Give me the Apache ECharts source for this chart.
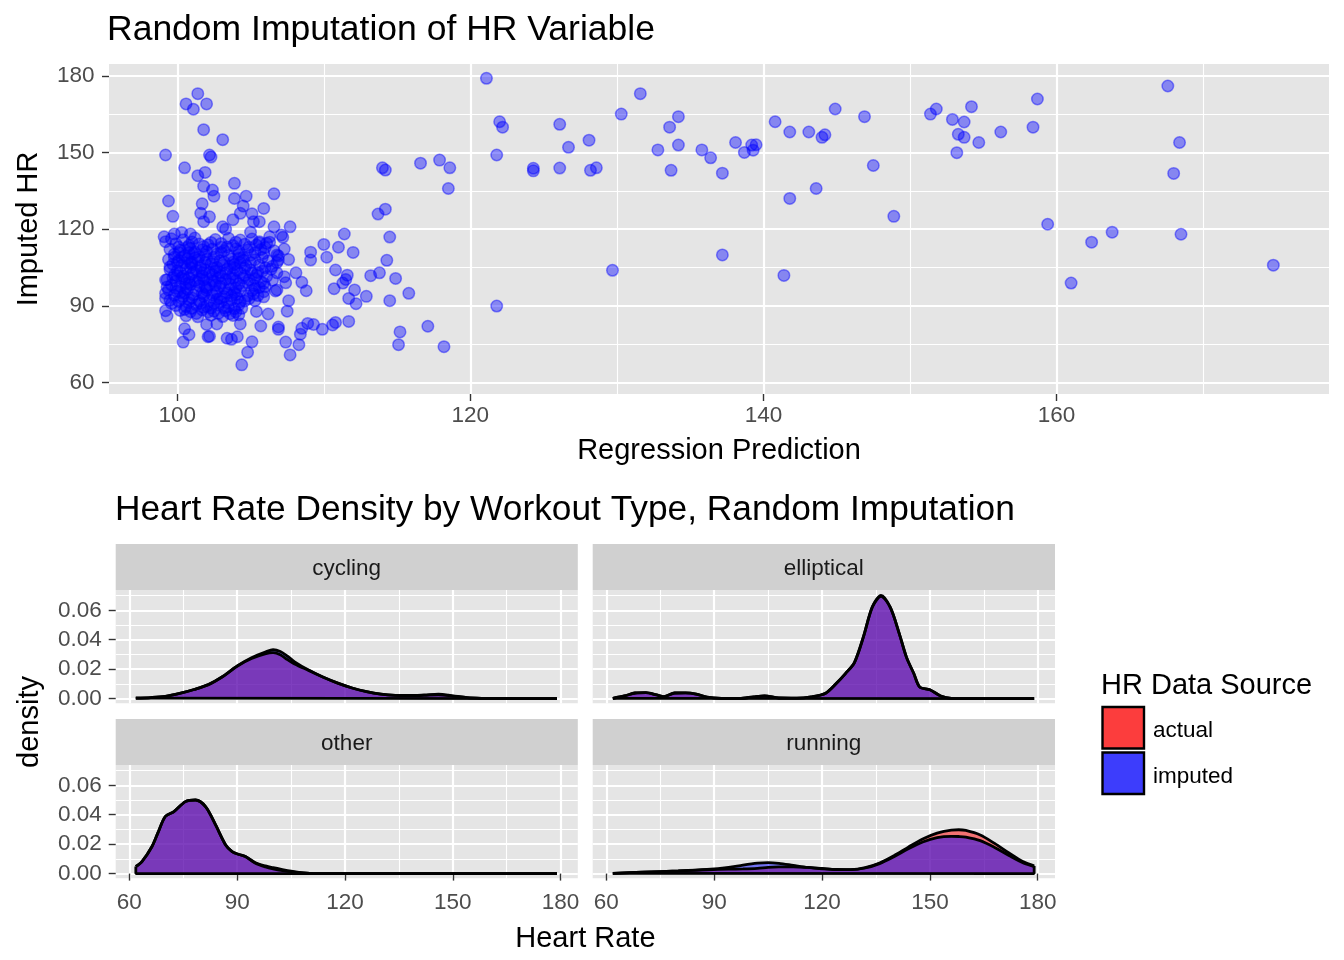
<!DOCTYPE html>
<html>
<head>
<meta charset="utf-8">
<title>Random Imputation of HR Variable</title>
<script src="https://cdn.jsdelivr.net/npm/echarts@6/dist/echarts.min.js"></script>
<style>
  html, body { margin: 0; padding: 0; background: #fff; }
  #chart { width: 1344px; height: 960px; }
</style>
</head>
<body>
<div id="chart"></div>
<script>
// scatter: [regression prediction, imputed HR]
var hrPoints = [
  [101.4,173.0],[100.6,169.0],[101.1,166.9],[102.0,169.0],[101.8,158.9],[103.1,155.0],[99.2,149.0],[102.2,149.0],[102.3,148.2],[100.5,144.0],
  [101.9,142.2],[101.4,140.9],[103.9,137.9],[101.8,136.8],[102.4,135.3],[102.5,132.9],[99.4,131.0],[99.7,125.0],[103.9,132.0],[104.7,132.9],
  [104.5,129.0],[104.3,126.2],[106.6,133.8],[105.9,128.1],[101.7,129.9],[105.1,126.0],[105.6,122.9],[105.2,122.9],[103.8,123.7],[103.1,120.9],
  [103.3,120.0],[107.7,120.9],[106.6,120.9],[107.1,117.7],[107.2,116.8],[105.0,118.8],[99.1,117.0],[99.2,115.1],[99.8,118.1],[100.3,118.7],
  [100.9,118.1],[106.3,117.0],[106.3,114.9],[105.6,115.1],[106.8,109.9],[106.9,107.9],[114.0,144.0],[114.2,143.1],[113.7,125.9],[114.2,127.8],
  [114.5,116.9],[114.3,107.8],[116.6,145.8],[111.4,118.1],[110.0,114.0],[111.0,112.9],[112.0,110.9],[109.1,111.0],[110.2,109.0],[109.1,107.9],
  [110.8,104.0],[111.6,102.0],[111.5,100.3],[111.3,98.9],[110.7,96.7],[113.2,101.8],[113.8,102.9],[114.9,100.7],[112.1,96.2],[111.7,92.9],
  [112.2,90.8],[112.9,93.7],[114.5,92.0],[115.8,94.9],[108.1,102.9],[108.5,99.2],[108.8,95.9],[107.3,101.4],[107.4,99.0],[106.7,95.8],
  [107.6,92.0],[107.5,87.9],[111.7,83.9],[110.8,83.5],[110.6,82.5],[109.9,80.8],[109.3,82.7],[108.9,83.1],[108.5,81.2],[108.4,78.9],
  [108.3,74.8],[107.7,70.8],[107.4,75.8],[106.9,81.7],[106.9,80.8],[115.2,79.8],[115.1,74.8],[105.7,82.1],[106.2,86.8],[105.4,87.8],
  [105.1,75.9],[104.8,71.8],[104.4,66.9],[103.7,76.9],[104.1,77.9],[104.3,82.9],[104.2,86.5],[102.7,82.9],[102.0,82.7],[102.1,77.9],
  [102.2,78.1],[100.5,81.0],[100.8,78.7],[100.4,75.8],[99.3,86.0],[99.2,88.1],[99.2,94.9],[99.2,92.9],[99.3,97.4],[99.2,100.1],
  [101.6,126.2],[102.2,124.8],[101.8,122.9],[105.9,93.5],[103.4,77.3],
  // dense cluster
  [99.6,116.2],[100.4,115.8],[101.2,116.5],[102.6,115.9],[103.5,116.4],[104.3,115.7],[105.1,116.1],
  [99.9,114.3],[100.8,113.7],[101.5,114.2],[102.1,113.9],[103.0,114.4],[103.8,113.6],[104.6,114.1],[105.4,113.8],[106.1,114.5],
  [99.5,112.1],[100.2,111.7],[100.9,112.4],[101.7,111.9],[102.4,112.2],[103.2,111.6],[104.0,112.3],[104.8,111.8],[105.7,112.0],[106.6,111.5],[107.3,112.2],
  [99.8,110.2],[100.5,109.6],[101.1,110.4],[101.9,109.9],[102.7,110.3],[103.5,109.7],[104.2,110.1],[105.0,109.8],[105.9,110.5],[106.9,109.5],
  [99.4,108.1],[100.1,107.7],[100.7,108.4],[101.4,107.9],[102.0,108.2],[102.9,107.6],[103.7,108.3],[104.5,107.8],[105.3,108.0],[106.2,107.5],[107.6,108.1],
  [99.7,106.3],[100.3,105.8],[101.0,106.1],[101.6,105.6],[102.3,106.4],[103.1,105.9],[103.9,106.2],[104.7,105.7],[105.6,106.0],[106.5,105.5],
  [99.5,104.2],[100.0,103.7],[100.6,104.4],[101.3,103.9],[101.9,104.1],[102.6,103.6],[103.4,104.3],[104.1,103.8],[105.0,104.0],[105.8,103.5],[106.4,104.3],
  [99.8,102.1],[100.4,101.6],[101.0,102.3],[101.7,101.8],[102.4,102.2],[103.0,101.7],[103.8,102.4],[104.6,101.9],[105.4,102.0],[106.1,101.5],
  [99.3,100.2],[99.9,99.7],[100.5,100.4],[101.2,99.8],[101.8,100.1],[102.5,99.6],[103.3,100.3],[104.0,99.9],[104.9,100.2],[105.7,99.5],[106.5,100.0],
  [99.6,98.1],[100.2,97.6],[100.9,98.3],[101.5,97.8],[102.2,98.2],[102.9,97.7],[103.6,98.4],[104.4,97.9],[105.2,98.0],[106.0,97.5],
  [99.4,96.2],[100.0,95.7],[100.7,96.4],[101.3,95.9],[102.0,96.1],[102.7,95.6],[103.5,96.3],[104.3,95.8],[105.1,96.0],[105.9,95.5],[106.8,96.2],
  [99.8,94.1],[100.4,93.7],[101.1,94.3],[101.8,93.8],[102.4,94.2],[103.2,93.6],[104.0,94.4],[104.8,93.9],[105.5,94.0],
  [99.5,92.2],[100.1,91.7],[100.8,92.4],[101.5,91.8],[102.2,92.1],[103.0,91.6],[103.7,92.3],[104.6,91.9],[105.3,92.0],
  [99.9,90.1],[100.6,89.7],[101.3,90.4],[102.0,89.8],[102.8,90.2],[103.5,89.6],[104.2,90.3],
  [100.2,88.2],[100.9,87.7],[101.7,88.4],[102.5,87.9],[103.3,88.1],[104.0,87.6],
  [100.6,86.1],[101.4,85.7],[102.3,86.3],[103.1,85.8],[103.8,86.2],
  [100.3,108.9],[101.0,107.0],[101.6,104.8],[102.2,103.0],[102.8,100.9],[100.8,101.1],[101.4,99.2],[102.0,97.0],[102.6,94.9],[100.5,95.0],
  [101.0,93.1],[101.6,91.0],[102.3,89.1],[100.2,103.1],[103.2,107.1],[103.9,104.9],[104.3,102.9],[103.6,100.8],[104.8,99.0],[103.0,98.9],
  [101.2,111.0],[102.0,111.2],[100.6,97.0],[103.4,95.0],[104.1,93.0],[102.9,92.9],[101.9,106.9],[104.5,108.9],[100.0,106.9],[100.9,104.9],
  [100.1,113.0],[101.0,115.0],[102.3,114.8],[103.4,113.0],[104.2,111.3],[105.3,110.8],[100.8,110.8],[102.5,109.0],[103.8,107.0],[105.0,106.9],
  [100.5,106.8],[102.7,105.0],[104.6,104.7],[105.5,103.0],[101.1,103.2],[102.9,103.0],[100.3,100.9],[102.0,100.8],[104.5,100.9],[105.9,98.8],
  [100.8,99.0],[102.6,98.0],[104.0,97.0],[105.3,96.8],[99.9,96.9],[101.7,95.0],[103.9,95.2],[104.9,92.8],[100.3,92.9],[102.5,91.0],
  [103.4,91.2],[101.0,89.0],[103.9,88.9],[102.8,87.0],[101.3,87.0],[104.4,89.0],[99.6,90.9],[99.7,101.0],[99.5,105.2],[99.8,109.0],
  [100.7,112.9],[101.8,113.2],[103.0,112.9],[104.0,114.9],[105.6,114.6],[100.1,110.9],[101.5,109.2],[103.0,110.9],[104.9,112.9],[106.0,112.8],
  [101.2,108.8],[102.4,107.3],[104.2,108.6],[105.8,108.9],[106.8,106.9],[100.9,106.7],[102.5,104.6],[103.6,105.5],[104.3,106.8],[106.0,104.9],
  [101.7,103.0],[103.3,102.7],[105.1,102.8],[106.8,102.9],[100.0,101.8],[101.5,100.6],[103.8,100.8],[105.3,100.7],[100.6,98.6],[102.4,99.8],
  [104.2,98.6],[105.6,97.2],[101.9,97.5],[103.2,96.8],[100.2,95.2],[101.8,94.4],[103.7,94.0],[105.2,94.6],[100.8,91.2],[102.7,92.6],
  [104.3,91.6],[101.8,89.4],[103.2,89.2],[100.5,88.6],[102.1,87.6],[103.6,86.9]
  ,
  // 117 - 150
  [121.1,179.0],[131.6,173.0],[130.3,165.0],[134.2,164.0],[133.6,159.9],[122.0,162.0],[122.2,159.9],[126.1,161.0],[128.1,154.8],[126.7,152.0],
  [121.8,149.0],[132.8,151.0],[134.2,152.9],[135.8,151.0],[136.4,147.9],[138.1,153.9],[138.7,150.0],[139.2,152.9],[139.5,153.0],[139.3,150.9],
  [133.7,143.0],[137.2,141.9],[117.9,147.0],[118.6,144.0],[118.5,135.9],[124.3,143.8],[124.3,142.8],[126.1,143.9],[128.2,143.0],[128.6,144.0],
  [140.8,162.0],[141.8,158.0],[143.1,158.0],[144.0,155.9],[144.2,156.9],[144.9,167.0],[146.9,164.0],[147.5,144.9],[143.6,135.9],[141.8,132.0],
  [148.9,125.0],[137.2,109.9],[129.7,103.9],[141.4,101.9],[121.8,89.9],[117.1,82.0],[118.2,74.0],
  // 150 +
  [167.6,176.0],[158.7,170.9],[151.4,165.0],[151.8,167.0],[154.2,167.9],[152.9,162.9],[153.7,161.9],[153.3,157.1],[153.7,155.9],[154.7,153.9],
  [153.2,149.9],[156.2,158.0],[158.4,159.9],[168.4,153.9],[168.0,141.8],[159.4,121.9],[162.4,114.9],[163.8,118.8],[168.5,118.0],[174.8,105.9],
  [161.0,98.9]
];

// density curves by workout type (x = heart rate)
var workoutTypes = ['cycling', 'elliptical', 'other', 'running'];
var sourceNames = ['actual', 'imputed'];

var cyclingHR      = [61.8, 66, 70, 74, 78, 82, 86, 90, 94, 98, 100, 102, 104, 106, 110, 114, 118, 122, 126, 130, 134, 138, 142, 146, 150, 154, 158, 164, 172, 179];
var cyclingActual  = [0.0003, 0.0007, 0.0015, 0.0035, 0.0062, 0.0095, 0.0150, 0.0220, 0.0272, 0.0305, 0.0312, 0.0298, 0.0265, 0.0235, 0.0190, 0.0145, 0.0105, 0.0072, 0.0047, 0.0030, 0.0022, 0.0020, 0.0022, 0.0026, 0.0017, 0.0006, 0.0002, 0.0001, 0, 0];
var cyclingImputed = [0.0003, 0.0007, 0.0015, 0.0035, 0.0062, 0.0095, 0.0150, 0.0222, 0.0278, 0.0318, 0.0332, 0.0320, 0.0288, 0.0250, 0.0192, 0.0145, 0.0105, 0.0072, 0.0047, 0.0030, 0.0022, 0.0021, 0.0025, 0.0031, 0.0019, 0.0006, 0.0002, 0.0001, 0, 0];

var ellipticalHR      = [61.8, 65, 68, 71, 74, 76, 79, 82, 85, 88, 92, 97, 101, 104, 108, 113, 117, 121, 124, 126.5, 129, 131.5, 134, 136.4, 139, 141.5, 143.5, 145.5, 147.2, 150, 153, 156, 162, 170, 179];
var ellipticalActual  = [0.0002, 0.0018, 0.0038, 0.0041, 0.0025, 0.0014, 0.0038, 0.0039, 0.0031, 0.0010, 0.0002, 0.0001, 0.0012, 0.0018, 0.0004, 0.0003, 0.0012, 0.0037, 0.0104, 0.0170, 0.0245, 0.0420, 0.0625, 0.0702, 0.0620, 0.0440, 0.0280, 0.0172, 0.0078, 0.0060, 0.0018, 0.0002, 0, 0, 0];
var ellipticalImputed = [0.0002, 0.0018, 0.0038, 0.0041, 0.0025, 0.0014, 0.0038, 0.0039, 0.0031, 0.0010, 0.0002, 0.0001, 0.0012, 0.0018, 0.0004, 0.0003, 0.0012, 0.0037, 0.0104, 0.0170, 0.0245, 0.0418, 0.0622, 0.0695, 0.0618, 0.0440, 0.0280, 0.0172, 0.0078, 0.0060, 0.0018, 0.0002, 0, 0, 0];

var otherHR      = [61.8, 63.5, 66.3, 68, 70, 72.4, 75.6, 78.4, 81.2, 84, 86.8, 88.6, 90.5, 92.3, 95.1, 97.9, 100, 102.6, 105, 107.2, 110.9, 120, 140, 160, 179];
var otherActual  = [0.0048, 0.0081, 0.0184, 0.0280, 0.0388, 0.0421, 0.0489, 0.0500, 0.0455, 0.0331, 0.0195, 0.0150, 0.0130, 0.0116, 0.0070, 0.0045, 0.0032, 0.0020, 0.0012, 0.0006, 0.0001, 0, 0, 0, 0];
var otherImputed = [0.0048, 0.0081, 0.0184, 0.0280, 0.0388, 0.0421, 0.0489, 0.0500, 0.0455, 0.0331, 0.0195, 0.0150, 0.0130, 0.0116, 0.0074, 0.0052, 0.0040, 0.0027, 0.0016, 0.0008, 0.0001, 0, 0, 0, 0];

var runningHR      = [61.8, 70, 80, 88, 94, 98, 102, 105, 108, 112, 116, 120, 124, 128, 132, 136, 140, 144, 148, 152, 156, 158, 160, 164, 168, 172, 176, 179];
var runningActual  = [0.0002, 0.0009, 0.0018, 0.0026, 0.0030, 0.0032, 0.0036, 0.0042, 0.0045, 0.0046, 0.0042, 0.0035, 0.0028, 0.0027, 0.0040, 0.0072, 0.0122, 0.0180, 0.0235, 0.0275, 0.0296, 0.0298, 0.0293, 0.0262, 0.0205, 0.0140, 0.0080, 0.0052];
var runningImputed = [0.0002, 0.0009, 0.0018, 0.0028, 0.0042, 0.0058, 0.0071, 0.0075, 0.0070, 0.0056, 0.0042, 0.0033, 0.0027, 0.0027, 0.0038, 0.0068, 0.0115, 0.0168, 0.0215, 0.0245, 0.0253, 0.0252, 0.0248, 0.0224, 0.0178, 0.0123, 0.0072, 0.0048];

// tick labels
var predTicks = [100, 120, 140, 160], predMinor = [110, 130, 150, 170];
var hrTicks = [60, 90, 120, 150, 180], hrMinor = [75, 105, 135, 165];
var densTicks = [0, 0.02, 0.04, 0.06], densMinor = [0.01, 0.03, 0.05, 0.07];

var FONT = '"Liberation Sans", Arial, Helvetica, sans-serif';
var PANEL = '#E5E5E5';
var STRIP = '#D0D0D0';

var myChart = echarts.init(document.getElementById('chart'), null, { renderer: 'canvas' });

function pairs(xs, ys) {
    return xs.map(function (x, i) { return [x, ys[i]]; });
}

// major axis + a hidden twin that only draws the thin minor grid lines
function axisPair(gridIndex, pos, min, max, major, minor, showLabels, fmt, margin, name, nameGap) {
    var a = {
        type: 'value', gridIndex: gridIndex, position: pos, min: min, max: max,
        axisLine: { show: false },
        axisTick: { show: showLabels, customValues: major, length: 7, lineStyle: { color: '#333333', width: 1.4 } },
        axisLabel: { show: showLabels, customValues: major, color: '#4D4D4D', fontSize: 22.5, fontFamily: FONT, margin: margin, formatter: fmt },
        splitLine: { show: true, lineStyle: { color: '#FFFFFF', width: 2.2 } }
    };
    if (name) {
        a.name = name;
        a.nameLocation = 'middle';
        a.nameGap = nameGap;
        a.nameTextStyle = { color: '#000', fontSize: 29, fontFamily: FONT };
    }
    var b = {
        type: 'value', gridIndex: gridIndex, position: pos, min: min, max: max,
        axisLine: { show: false },
        axisTick: { show: false, customValues: minor },
        axisLabel: { show: false, customValues: minor },
        splitLine: { show: true, lineStyle: { color: '#FFFFFF', width: 1.1 } }
    };
    return [a, b];
}

var facetBox = [
    { left: 115.7, top: 590, width: 462.1, height: 113.3 },
    { left: 592.7, top: 590, width: 462.3, height: 113.3 },
    { left: 115.7, top: 765, width: 462.1, height: 113.3 },
    { left: 592.7, top: 765, width: 462.3, height: 113.3 }
];
var facetHR = [cyclingHR, ellipticalHR, otherHR, runningHR];
var facetActual = [cyclingActual, ellipticalActual, otherActual, runningActual];
var facetImputed = [cyclingImputed, ellipticalImputed, otherImputed, runningImputed];

var grids = [{ left: 109, top: 64, width: 1220, height: 330, show: true, backgroundColor: PANEL, borderWidth: 0 }];
var xAxes = axisPair(0, 'bottom', 95.34, 178.6, predTicks, predMinor, true, null, 10, 'Regression Prediction', 42);
var yAxes = axisPair(0, 'left', 55.5, 184.6, hrTicks, hrMinor, true, null, 14.5, 'Imputed HR', 66);

var series = [{
    type: 'scatter', xAxisIndex: 0, yAxisIndex: 0, data: hrPoints,
    symbolSize: 11.5,
    itemStyle: { color: 'rgba(0,0,255,0.52)', borderColor: 'rgba(0,0,255,0.55)', borderWidth: 1.5 },
    emphasis: { disabled: true }, silent: true
}];

var graphics = [];

facetBox.forEach(function (b, i) {
    var g = i + 1;
    grids.push({ left: b.left, top: b.top, width: b.width, height: b.height, show: true, backgroundColor: PANEL, borderWidth: 0 });
    var bottomRow = i >= 2, leftCol = i % 2 === 0;
    xAxes = xAxes.concat(axisPair(g, 'bottom', 56.2, 184.8, hrTicks, hrMinor, bottomRow, null, 12.5));
    yAxes = yAxes.concat(axisPair(g, 'left', -0.0032, 0.0738, densTicks, densMinor, leftCol,
        function (v) { return v.toFixed(2); }, 14));

    var hr = facetHR[i], act = facetActual[i], imp = facetImputed[i];
    var ai = 2 * g;
    series.push({
        type: 'line', name: 'actual', xAxisIndex: ai, yAxisIndex: ai, data: pairs(hr, act),
        smooth: 0.3, showSymbol: false, silent: true,
        lineStyle: { color: '#000', width: 2.8 },
        areaStyle: { color: 'rgba(255,0,0,0.5)', opacity: 1 }
    });
    series.push({
        type: 'line', name: 'imputed', xAxisIndex: ai, yAxisIndex: ai, data: pairs(hr, imp),
        smooth: 0.3, showSymbol: false, silent: true,
        lineStyle: { color: '#000', width: 2.8 },
        areaStyle: { color: 'rgba(0,0,255,0.5)', opacity: 1 }
    });
    // polygon outline: end edges and baseline
    var n = hr.length - 1;
    series.push({
        type: 'line', xAxisIndex: ai, yAxisIndex: ai, showSymbol: false, silent: true,
        data: [[hr[0], Math.max(act[0], imp[0])], [hr[0], 0], [hr[n], 0], [hr[n], Math.max(act[n], imp[n])]],
        lineStyle: { color: '#000', width: 2.8 }
    });

    // strip
    graphics.push({
        type: 'rect', silent: true,
        shape: { x: b.left, y: b.top - 46, width: b.width, height: 46 },
        style: { fill: STRIP }
    });
    graphics.push({
        type: 'text', silent: true, x: b.left + b.width / 2, y: b.top - 21.5,
        style: { text: workoutTypes[i], fill: '#1A1A1A', fontSize: 22.5, fontFamily: FONT, align: 'center', verticalAlign: 'middle' }
    });
});

// shared axis titles of the facet block
graphics.push({
    type: 'text', silent: true, x: 585.4, y: 939,
    style: { text: 'Heart Rate', fill: '#000', fontSize: 29, fontFamily: FONT, align: 'center', verticalAlign: 'middle' }
});
graphics.push({
    type: 'text', silent: true, x: 30, y: 722, rotation: Math.PI / 2,
    style: { text: 'density', fill: '#000', fontSize: 29, fontFamily: FONT, align: 'center', verticalAlign: 'middle' }
});

// legend
var legendFill = ['#FC3D3D', '#3D3DFC'];
graphics.push({
    type: 'text', silent: true, x: 1101, y: 686,
    style: { text: 'HR Data Source', fill: '#000', fontSize: 29, fontFamily: FONT, align: 'left', verticalAlign: 'middle' }
});
sourceNames.forEach(function (s, i) {
    graphics.push({
        type: 'rect', silent: true,
        shape: { x: 1102.5, y: 707 + i * 45.5, width: 41.5, height: 41.5 },
        style: { fill: legendFill[i], stroke: '#000', lineWidth: 2.4 }
    });
    graphics.push({
        type: 'text', silent: true, x: 1153, y: 731 + i * 46,
        style: { text: s, fill: '#000', fontSize: 22.5, fontFamily: FONT, align: 'left', verticalAlign: 'middle' }
    });
});

var option = {
    animation: false,
    backgroundColor: '#FFFFFF',
    textStyle: { fontFamily: FONT },
    title: [
        { text: 'Random Imputation of HR Variable', left: 107, top: 12, padding: 0,
          textStyle: { color: '#000', fontSize: 35.5, fontWeight: 'normal', fontFamily: FONT } },
        { text: 'Heart Rate Density by Workout Type, Random Imputation', left: 115, top: 493, padding: 0,
          textStyle: { color: '#000', fontSize: 35.3, fontWeight: 'normal', fontFamily: FONT } }
    ],
    grid: grids,
    xAxis: xAxes,
    yAxis: yAxes,
    series: series,
    graphic: graphics
};

myChart.setOption(option);
</script>
</body>
</html>
